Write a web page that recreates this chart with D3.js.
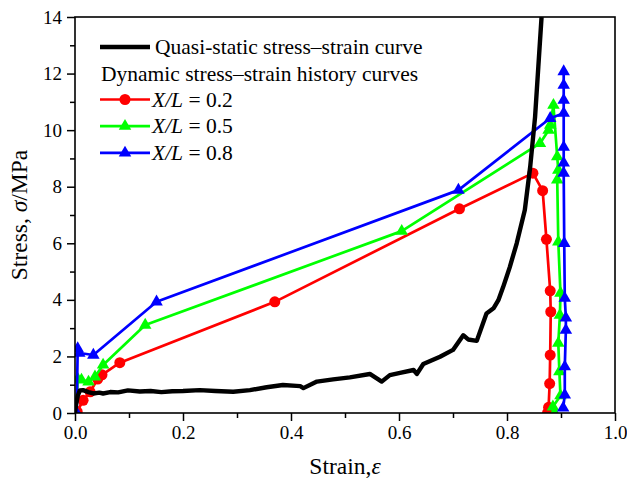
<!DOCTYPE html>
<html>
<head>
<meta charset="utf-8">
<script src="https://cdn.jsdelivr.net/npm/d3@7/dist/d3.min.js"></script>
<style>
  body { margin: 0; background: #fff; }
  svg text { font-family: "Liberation Serif", "Times New Roman", serif; fill: #000; }
</style>
</head>
<body>
<svg id="chart" width="627" height="482"></svg>
<script>
'use strict';

// quasi-static curve
var quasiX = [0, 0.002, 0.005, 0.009, 0.015, 0.025, 0.034, 0.045, 0.052, 0.065, 0.08, 0.098,
  0.12, 0.14, 0.16, 0.18, 0.2, 0.231, 0.26, 0.293, 0.324, 0.355, 0.385, 0.41, 0.417, 0.423,
  0.448, 0.478, 0.509, 0.546, 0.568, 0.583, 0.602, 0.627, 0.633, 0.645, 0.676, 0.7, 0.719,
  0.728, 0.744, 0.762, 0.775, 0.784, 0.793, 0.805, 0.818, 0.833, 0.843, 0.852, 0.858, 0.864];
var quasiY = [0, 0.3, 0.6, 0.8, 0.81, 0.74, 0.69, 0.72, 0.69, 0.74, 0.73, 0.8,
  0.76, 0.78, 0.74, 0.77, 0.78, 0.81, 0.78, 0.75, 0.81, 0.91, 0.99, 0.96, 0.95, 0.88,
  1.11, 1.19, 1.26, 1.38, 1.11, 1.34, 1.42, 1.52, 1.38, 1.73, 1.99, 2.23, 2.75,
  2.6, 2.55, 3.52, 3.7, 3.99, 4.46, 5.15, 6.0, 7.18, 8.71, 10.47, 12.24, 14.0];

// dynamic curves, X/L = 0.2 / 0.5 / 0.8
var redX = [0.004, 0.015, 0.028, 0.042, 0.05, 0.083, 0.37, 0.712, 0.848, 0.866, 0.873,
  0.88, 0.881, 0.88, 0.879, 0.877, 0.875];
var redY = [0.05, 0.45, 0.75, 1.2, 1.35, 1.78, 3.93, 7.22, 8.48, 7.86, 6.14,
  4.32, 3.58, 2.05, 1.04, 0.2, 0];
var greenX = [0.002, 0.005, 0.012, 0.025, 0.037, 0.052, 0.13, 0.605, 0.861, 0.877, 0.88,
  0.886, 0.893, 0.895, 0.893, 0.895, 0.899, 0.898, 0.895, 0.897, 0.899, 0.885, 0.888];
var greenY = [0, 1.2, 1.17, 1.1, 1.28, 1.7, 3.11, 6.43, 9.53, 10.0, 10.18,
  10.88, 9.06, 8.59, 8.24, 6.05, 4.24, 3.46, 2.47, 1.46, 0.61, 0.22, 0];
var blueX = [0.003, 0.005, 0.008, 0.034, 0.151, 0.71, 0.88, 0.905, 0.905, 0.905, 0.905,
  0.905, 0.905, 0.905, 0.906, 0.907, 0.909, 0.909, 0.907, 0.907, 0.904];
var blueY = [0, 2.28, 2.12, 2.05, 3.93, 7.88, 10.42, 10.6, 11.06, 11.59, 12.07,
  9.4, 8.84, 8.48, 6.0, 4.06, 3.36, 2.93, 1.64, 0.64, 0.18];

var xTicks = [0, 0.2, 0.4, 0.6, 0.8, 1.0];
var yTicks = [0, 2, 4, 6, 8, 10, 12, 14];
var ratioLabels = ['0.2', '0.5', '0.8'];

(function () {
  var svg = d3.select('#chart');
  var pLeft = 75, pRight = 615, pTop = 17, pBottom = 413;
  var serif = '"Liberation Serif", "Times New Roman", serif';

  var x = d3.scaleLinear().domain([0, 1]).range([pLeft, pRight]);
  var y = d3.scaleLinear().domain([0, 14]).range([pBottom, pTop]);

  function zip(xs, ys) {
    return xs.map(function (v, i) { return [v, ys[i]]; });
  }

  var series = [
    {color: '#ff0000', shape: 'circle', pts: zip(redX, redY)},
    {color: '#00ff00', shape: 'triangle', pts: zip(greenX, greenY)},
    {color: '#0000ff', shape: 'triangle', pts: zip(blueX, blueY)}
  ];

  svg.append('defs').append('clipPath').attr('id', 'clip')
    .append('rect')
    .attr('x', pLeft).attr('y', pTop)
    .attr('width', pRight - pLeft).attr('height', pBottom - pTop);

  var line = d3.line()
    .x(function (d) { return x(d[0]); })
    .y(function (d) { return y(d[1]); });

  var tri = d3.symbol().type(d3.symbolTriangle).size(68);

  function drawMarker(sel, shape, color) {
    if (shape === 'circle') {
      sel.append('circle').attr('r', 5.5).attr('fill', color);
    } else {
      sel.append('path').attr('d', tri()).attr('fill', color);
    }
  }

  var plot = svg.append('g').attr('clip-path', 'url(#clip)');

  series.forEach(function (s) {
    plot.append('path')
      .datum(s.pts)
      .attr('d', line)
      .attr('fill', 'none')
      .attr('stroke', s.color)
      .attr('stroke-width', 2.7)
      .attr('stroke-linejoin', 'round');
    s.pts.forEach(function (p) {
      var g = plot.append('g').attr('transform', 'translate(' + x(p[0]) + ',' + y(p[1]) + ')');
      drawMarker(g, s.shape, s.color);
    });
  });

  plot.append('path')
    .datum(zip(quasiX, quasiY))
    .attr('d', line)
    .attr('fill', 'none')
    .attr('stroke', '#000')
    .attr('stroke-width', 4.4)
    .attr('stroke-linejoin', 'round');

  // axes
  var xAxis = d3.axisBottom(x).tickValues(xTicks).tickFormat(d3.format('.1f'))
    .tickSizeInner(8).tickSizeOuter(0).tickPadding(5);
  var xMinor = d3.axisBottom(x).tickValues(d3.range(0.1, 1, 0.2)).tickFormat('')
    .tickSizeInner(5).tickSizeOuter(0);
  var yAxis = d3.axisLeft(y).tickValues(yTicks).tickFormat(d3.format('d'))
    .tickSizeInner(8).tickSizeOuter(0).tickPadding(5);
  var yMinor = d3.axisLeft(y).tickValues(d3.range(1, 14, 2)).tickFormat('')
    .tickSizeInner(5).tickSizeOuter(0);

  [[xAxis, 'translate(0,' + pBottom + ')'], [xMinor, 'translate(0,' + pBottom + ')'],
   [yAxis, 'translate(' + pLeft + ',0)'], [yMinor, 'translate(' + pLeft + ',0)']].forEach(function (a) {
    var g = svg.append('g').attr('transform', a[1]).call(a[0]);
    g.attr('font-family', null).attr('font-size', null);
    g.select('.domain').remove();
    g.selectAll('line').attr('stroke', '#000').attr('stroke-width', 1.5);
    g.selectAll('text').style('font-size', '19px')
      .style('font-family', serif).attr('fill', '#000');
  });

  svg.append('rect')
    .attr('x', pLeft).attr('y', pTop)
    .attr('width', pRight - pLeft).attr('height', pBottom - pTop)
    .attr('fill', 'none').attr('stroke', '#000').attr('stroke-width', 1.6);

  // axis titles
  var xt = svg.append('text').attr('x', (pLeft + pRight) / 2).attr('y', 474)
    .attr('text-anchor', 'middle').style('font-size', '23.5px');
  xt.append('tspan').text('Strain,');
  xt.append('tspan').style('font-style', 'italic').text('\u03b5');

  var yt = svg.append('text')
    .attr('transform', 'translate(27,' + ((pTop + pBottom) / 2) + ') rotate(-90)')
    .attr('text-anchor', 'middle').style('font-size', '23.5px');
  yt.append('tspan').text('Stress, ');
  yt.append('tspan').style('font-style', 'italic').text('\u03c3');
  yt.append('tspan').text('/MPa');

  // legend
  var lg = svg.append('g').style('font-size', '21.5px');
  lg.append('line').attr('x1', 100).attr('x2', 150).attr('y1', 47).attr('y2', 47)
    .attr('stroke', '#000').attr('stroke-width', 4.4);
  lg.append('text').attr('x', 155).attr('y', 54).text('Quasi-static stress\u2013strain curve');
  lg.append('text').attr('x', 101).attr('y', 81).text('Dynamic stress\u2013strain history curves');

  series.forEach(function (s, i) {
    var cy = 99.5 + i * 26.7;
    lg.append('line').attr('x1', 100).attr('x2', 150).attr('y1', cy).attr('y2', cy)
      .attr('stroke', s.color).attr('stroke-width', 2.7);
    drawMarker(lg.append('g').attr('transform', 'translate(125,' + cy + ')'), s.shape, s.color);
    var t = lg.append('text').attr('x', 152).attr('y', cy + 7);
    t.append('tspan').style('font-style', 'italic').text('X/L');
    t.append('tspan').text(' = ' + ratioLabels[i]);
  });
})();
</script>
</body>
</html>
